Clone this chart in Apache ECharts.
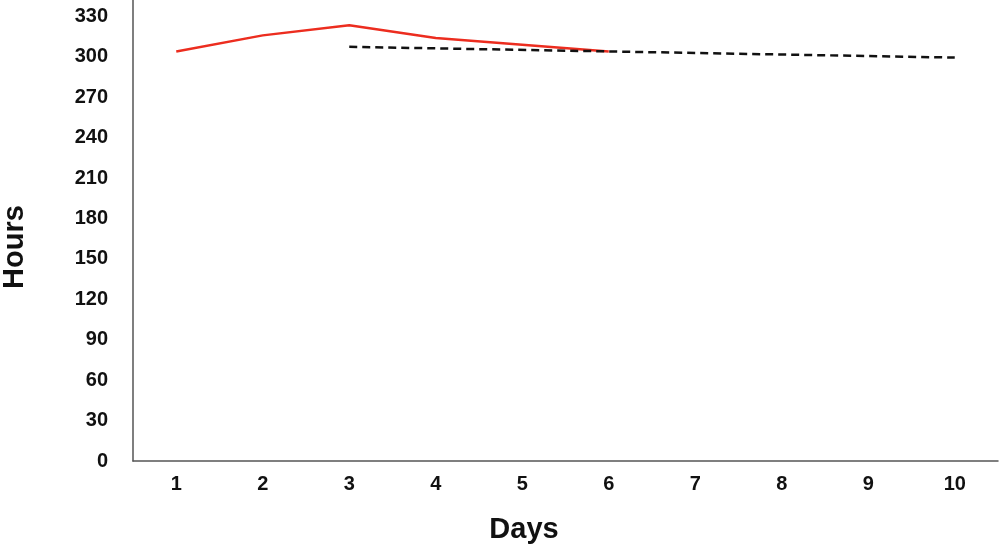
<!DOCTYPE html>
<html>
<head>
<meta charset="utf-8">
<script src="https://cdn.jsdelivr.net/npm/echarts@6/dist/echarts.min.js"></script>
<style>
  html, body { margin: 0; padding: 0; background: #fff; }
  #chart { width: 1000px; height: 548px; }
</style>
</head>
<body>
<div id="chart"></div>
<script>
  // data
  var days = ['1', '2', '3', '4', '5', '6', '7', '8', '9', '10']
  var hours = [304, 316, 323.5, 314, 309, 304, null, null, null, null]
  // dashed line: only the two ends are drawn, joined straight
  var trend = [null, null, 307.5, null, null, null, null, null, null, 299.5]

  var fontName = 'Liberation Sans'

  var myChart = echarts.init(document.getElementById('chart'))
  var option = {
    animation: false,
    grid: { left: 133, right: 2, top: -1, bottom: 87, containLabel: false, outerBoundsMode: 'none' },
    // axis names sit off-centre in the original, so they are placed by hand
    graphic: [
      {
        type: 'text', x: 524, y: 530,
        style: { text: 'Days', fontFamily: fontName, fontWeight: 'bold', fontSize: 29, fill: '#111',
          textAlign: 'center', textVerticalAlign: 'middle' }
      },
      {
        type: 'text', x: 15, y: 247, rotation: Math.PI / 2,
        style: { text: 'Hours', fontFamily: fontName, fontWeight: 'bold', fontSize: 29, fill: '#111',
          textAlign: 'center', textVerticalAlign: 'middle' }
      }
    ],
    xAxis: {
      type: 'category',
      data: days,
      boundaryGap: true,
      axisLine: { lineStyle: { color: '#555', width: 1.5 } },
      axisTick: { show: false },
      axisLabel: { fontFamily: fontName, fontWeight: 'bold', fontSize: 20, color: '#111', margin: 13 },
      splitLine: { show: false }
    },
    yAxis: {
      type: 'value',
      min: 0,
      max: 343,
      interval: 30,
      axisLine: { show: true, lineStyle: { color: '#555', width: 1.5 } },
      axisTick: { show: false },
      axisLabel: {
        fontFamily: fontName, fontWeight: 'bold', fontSize: 20, color: '#111', margin: 25,
        showMaxLabel: false,
        formatter: function (v) { return v % 30 === 0 ? v : '' }
      },
      splitLine: { show: false }
    },
    series: [
      {
        name: 'Hours',
        type: 'line',
        data: hours,
        showSymbol: false,
        lineStyle: { color: '#ec2d1f', width: 2.5 }
      },
      {
        name: 'Trend',
        type: 'line',
        data: trend,
        connectNulls: true,
        showSymbol: false,
        lineStyle: { color: '#111', width: 2.5, type: [8, 5] }
      }
    ]
  }
  myChart.setOption(option)
</script>
</body>
</html>
